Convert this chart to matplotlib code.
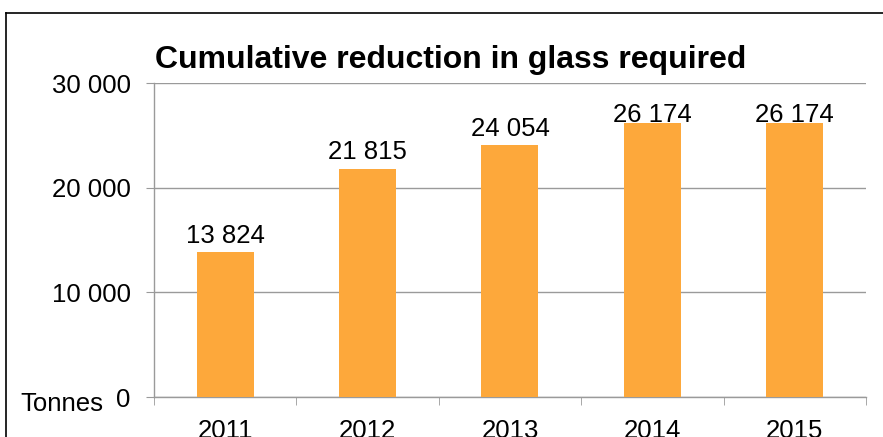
import matplotlib.pyplot as plt
from matplotlib.lines import Line2D
from matplotlib.transforms import ScaledTranslation

# --- Data ---
YEARS = ['2011', '2012', '2013', '2014', '2015']
REDUCTION = [13824, 21815, 24054, 26174, 26174]
Y_TICKS = [0, 10000, 20000, 30000]

BAR_COLOR = '#FDA83B'
GRID_COLOR = '#9a9a9a'
FS = 18.5
LABEL_CEIL = 25770  # value labels never rise above this (keeps them under the title)

plt.rcParams['font.family'] = ['Liberation Sans', 'DejaVu Sans']


def fmt(v):
    return f"{v:,}".replace(',', ' ')


fig = plt.figure(figsize=(8.83, 4.37), dpi=100)
ax = fig.add_axes([0.1744, 0.0915, 0.8063, 0.7185])

x = list(range(len(YEARS)))
ax.bar(x, REDUCTION, width=0.4, color=BAR_COLOR, zorder=3)

for xi, v in zip(x, REDUCTION):
    ax.text(xi, min(v + 450, LABEL_CEIL), fmt(v), ha='center', va='bottom',
            fontsize=FS, color='black', zorder=4)

ax.set_xlim(-0.5, len(YEARS) - 0.5)
ax.set_ylim(0, 30000)
ax.set_yticks(Y_TICKS)
ax.set_yticklabels([fmt(t) for t in Y_TICKS], fontsize=FS)
ax.yaxis.grid(True, color=GRID_COLOR, linewidth=1.0, zorder=0)

# nudge y labels down a touch, like the original
shift = ScaledTranslation(0, -3 / 100, fig.dpi_scale_trans)
for lbl in ax.get_yticklabels():
    lbl.set_transform(lbl.get_transform() + shift)

# category labels at centres, tick marks at boundaries
ax.set_xticks(x)
ax.set_xticklabels(YEARS, fontsize=FS)
ax.tick_params(axis='x', length=0, pad=15.5)
ax.set_xticks([i - 0.5 for i in range(len(YEARS) + 1)], minor=True)
ax.tick_params(axis='x', which='minor', length=5.8, color=GRID_COLOR, direction='out')
ax.tick_params(axis='y', length=5.8, color=GRID_COLOR, pad=11)

for side in ['top', 'right']:
    ax.spines[side].set_visible(False)
for side in ['left', 'bottom']:
    ax.spines[side].set_color(GRID_COLOR)
    ax.spines[side].set_linewidth(1.0)

fig.text(155 / 883, 1 - 68 / 437, 'Cumulative reduction in glass required',
         fontsize=23, fontweight='bold', ha='left', va='baseline')
fig.text(20 / 883, 1 - 411 / 437, 'Tonnes', fontsize=FS, ha='left', va='baseline')

# outer frame (top and left edges visible)
fig.add_artist(Line2D([5.5 / 883, 5.5 / 883], [0, 1 - 12.5 / 437], color='black', linewidth=1.2))
fig.add_artist(Line2D([5.5 / 883, 1], [1 - 12.5 / 437, 1 - 12.5 / 437], color='black', linewidth=1.2))

fig.savefig('out.png', dpi=100, facecolor='white')
